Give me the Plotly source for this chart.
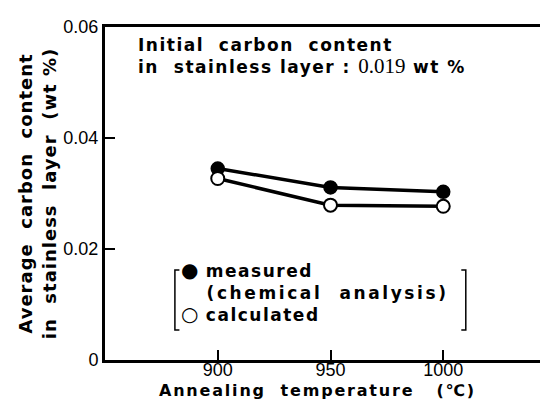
import plotly.graph_objects as go

temps = [900, 950, 1000]
measured = [0.0345, 0.0311, 0.0303]
calculated = [0.0327, 0.0279, 0.0277]
x_ticks = [900, 950, 1000]
y_ticks = [0, 0.02, 0.04, 0.06]
y_tick_labels = ["0", "0.02", "0.04", "0.06"]

FONT = "Liberation Sans, Arial, sans-serif"
BOLD = "DejaVu Sans, sans-serif"


def wide(s, ls=1.5):
    return f"<span style='letter-spacing:{ls}px'><b>{s}</b></span>"


fig = go.Figure()
fig.add_trace(go.Scatter(x=temps, y=measured, mode="lines+markers",
                         line=dict(color="black", width=3.5),
                         marker=dict(symbol="circle", size=13, color="black",
                                     line=dict(color="black", width=1.5)),
                         name="measured", showlegend=False))
fig.add_trace(go.Scatter(x=temps, y=calculated, mode="lines+markers",
                         line=dict(color="black", width=3.5),
                         marker=dict(symbol="circle", size=13, color="white",
                                     line=dict(color="black", width=2)),
                         name="calculated", showlegend=False))

fig.update_layout(
    width=548, height=403,
    margin=dict(l=97, r=0, t=19, b=51),
    paper_bgcolor="white", plot_bgcolor="white",
    font=dict(family=FONT, color="black", size=14),
    xaxis=dict(range=[850, 1050], tickvals=x_ticks, ticks="inside", ticklen=10,
               tickwidth=1.5, tickcolor="black", showline=True, linecolor="black",
               linewidth=3, mirror=True, showgrid=False, zeroline=False,
               tickfont=dict(size=18), ticklabelstandoff=-9),
    yaxis=dict(range=[0, 0.06], tickvals=y_ticks, ticktext=y_tick_labels, ticks="inside",
               ticklen=10, tickwidth=1.5, tickcolor="black", showline=True,
               linecolor="black", linewidth=3, showgrid=False, zeroline=False,
               tickfont=dict(size=18),
               title=dict(text=wide("Average  carbon  content", 1) + "<br>" +
                          wide("in  stainless  layer  (wt %)", 1),
                          font=dict(size=18, family=BOLD), standoff=3)),
)

# x-axis title
fig.add_annotation(xref="paper", yref="paper", x=0.472, y=0, xanchor="center", yanchor="bottom",
                   yshift=-41, showarrow=False, borderpad=0,
                   text=wide("Annealing  temperature   (℃)", 1.8),
                   font=dict(size=16, family=BOLD))

fig.add_annotation(xref="paper", yref="paper", x=0.068, y=0.982, xanchor="left", yanchor="top",
                   align="left", showarrow=False,
                   text=(wide("Initial  carbon  content") + "<br>" + wide("in  stainless layer : ")
                         + "<span style='font-family:Liberation Serif;font-size:21px'>0.019</span>"
                         + wide(" wt %")),
                   font=dict(size=17, family=BOLD))

# legend box with brackets
fig.add_annotation(xref="paper", yref="paper", x=0.163, y=0.312, xanchor="left", yanchor="top",
                   align="left", showarrow=False,
                   text=("<span style='font-size:20px'>●</span>" + wide(" measured") + "<br>"
                         + wide("&nbsp;&nbsp;&nbsp;(chemical&nbsp;&nbsp;analysis)", 2.6) + "<br>"
                         + "<span style='font-size:20px'>○</span>" + wide(" calculated")),
                   font=dict(size=17, family=BOLD))
fig.add_shape(type="path", xref="paper", yref="paper",
              path="M 0.165 0.27 L 0.155 0.27 L 0.155 0.09 L 0.165 0.09",
              line=dict(color="black", width=1.5))
fig.add_shape(type="path", xref="paper", yref="paper",
              path="M 0.79 0.27 L 0.80 0.27 L 0.80 0.09 L 0.79 0.09",
              line=dict(color="black", width=1.5))

fig.write_html("out.html")
